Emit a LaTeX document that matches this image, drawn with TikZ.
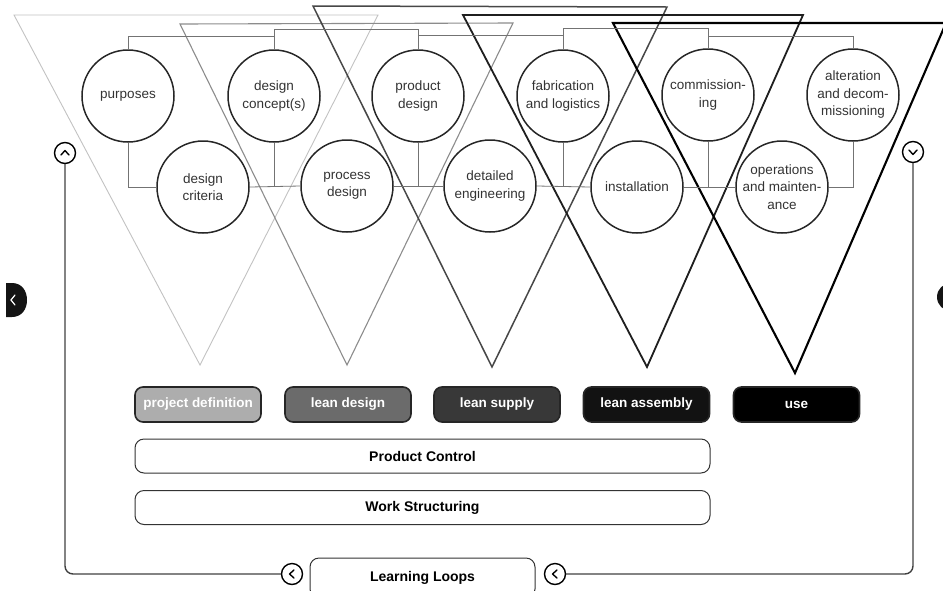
\documentclass[tikz,border=0pt]{standalone}
\usepackage{fontspec}
\setmainfont{Liberation Sans}
\begin{document}
\begin{tikzpicture}[x=1pt,y=-1pt,
  stage/.style={circle, draw=black!85, line width=1.5pt, minimum size=92pt, inner sep=0pt,
    align=center, font=\fontsize{13.5}{17.5}\selectfont, text=black!80},
  link/.style={draw=black!55, line width=0.8pt},
  phase/.style={rounded corners=8pt, draw=black!85, line width=1.6pt, minimum width=126pt,
    minimum height=35pt, inner sep=0pt, text=white, font=\bfseries\fontsize{13.5}{15}\selectfont},
  band/.style={rounded corners=9pt, draw=black!80, line width=1pt, fill=white,
    minimum width=575pt, minimum height=34pt, font=\bfseries\fontsize{14}{16}\selectfont},
  loopline/.style={draw=black!75, line width=1.4pt, rounded corners=8pt},
  navbtn/.style={circle, draw=black, line width=1.4pt, minimum size=21pt, inner sep=0pt, fill=white},
  chev/.style={draw=black, line width=1.4pt, line cap=round, line join=round},
  tri1/.style={draw=black!24, line width=0.9pt},
  tri2/.style={draw=black!45, line width=1.1pt},
  tri3/.style={draw=black!72, line width=1.5pt},
  tri4/.style={draw=black!88, line width=1.8pt},
  tri5/.style={draw=black, line width=2.1pt},
]
\path[use as bounding box] (0,0) rectangle (943,590);
\clip (0,0) rectangle (943,590);

% phase funnels
\draw[tri1] (14,15) -- (378,15) -- (200,365) -- cycle;
\draw[tri2] (180,24) -- (513,23) -- (347,365) -- cycle;
\draw[tri3] (313,6) -- (667,7) -- (492,367) -- cycle;
\draw[tri4] (463,15) -- (803,15) -- (647,367) -- cycle;
\draw[tri5] (613,23) -- (946,23) -- (795,373) -- cycle;

% project stages
\node[stage] (purp) at (128,96) {purposes};
\node[stage] (conc) at (274,96) {design\\concept(s)};
\node[stage] (prod) at (418,96) {product\\design};
\node[stage] (fabr) at (563,96) {fabrication\\and logistics};
\node[stage] (comm) at (708,95) {commission-\\ing};
\node[stage] (alte) at (853,95) {alteration\\and decom-\\missioning};

\node[stage] (crit) at (203,187) {design\\criteria};
\node[stage] (proc) at (347,186) {process\\design};
\node[stage] (deta) at (490,186) {detailed\\engineering};
\node[stage] (inst) at (637,187) {installation};
\node[stage] (oper) at (782,187) {operations\\and mainten-\\ance};

% upper brackets
\draw[link] (purp.north) -- ++(0,-13) -| (conc.north);
\draw[link] (conc.north) -- ++(0,-20) -| (prod.north);
\draw[link] (prod.north) -- ++(0,-14) -| (fabr.north);
\draw[link] (fabr.north) -- ++(0,-21) -| (comm.north);
\draw[link] (comm.north) -- ++(0,-12) -| (alte.north);

% lower brackets
\draw[link] (purp.south) |- (crit.west);
\draw[link] (crit.east) -- (proc.west);
\draw[link] (conc.south) -- (conc.south |- crit.east);
\draw[link] (proc.east) -- (deta.west);
\draw[link] (prod.south) -- (prod.south |- proc.east);
\draw[link] (deta.east) -- (inst.west);
\draw[link] (fabr.south) -- (fabr.south |- deta.east);
\draw[link] (inst.east) -- (oper.west);
\draw[link] (comm.south) -- (comm.south |- inst.east);
\draw[link] (alte.south) |- (oper.east);

% phases
\node[phase, fill=black!32] (ph1) at (198,404.5) {project definition};
\node[phase, fill=black!58] (ph2) at (348,404.5) {lean design};
\node[phase, fill=black!78] (ph3) at (497,404.5) {lean supply};
\node[phase, fill=black!93] (ph4) at (646.5,404.5) {lean assembly};
\node[phase, fill=black] (ph5) at (796.5,404.5) {use};

% control bands
\node[band] (pc) at (422.5,456) {Product Control};
\node[band] (ws) at (422.5,507.5) {Work Structuring};
\node[band, minimum width=225pt, minimum height=40pt] (ll) at (422.5,578) {Learning Loops};

% learning loop
\node[navbtn] (up) at (65,153) {};
\node[navbtn] (down) at (913,152) {};
\node[navbtn] (lback) at (292,574) {};
\node[navbtn] (fwd) at (555,574) {};
\draw[loopline] (up.south) |- (lback.west);
\draw[loopline] (fwd.east) -| (down.south);
\draw[chev] ([xshift=-4pt,yshift=-2pt]up.center) -- ([yshift=2.5pt]up.center) -- ([xshift=4pt,yshift=-2pt]up.center);
\draw[chev] ([xshift=-4pt,yshift=2pt]down.center) -- ([yshift=-2.5pt]down.center) -- ([xshift=4pt,yshift=2pt]down.center);
\draw[chev] ([xshift=2pt,yshift=4pt]lback.center) -- ([xshift=-2.5pt]lback.center) -- ([xshift=2pt,yshift=-4pt]lback.center);
\draw[chev] ([xshift=2pt,yshift=4pt]fwd.center) -- ([xshift=-2.5pt]fwd.center) -- ([xshift=2pt,yshift=-4pt]fwd.center);

% page navigation tabs
\fill[black!92] (6,283) -- (12,283) .. controls (22,283) and (27,291) .. (27,300)
  .. controls (27,309) and (22,317) .. (12,317) -- (6,317) -- cycle;
\draw[white, line width=1.2pt, line cap=round] (15,295) -- (11,300) -- (15,305);
\fill[black!92] (951,297) circle (14);
\end{tikzpicture}
\end{document}
